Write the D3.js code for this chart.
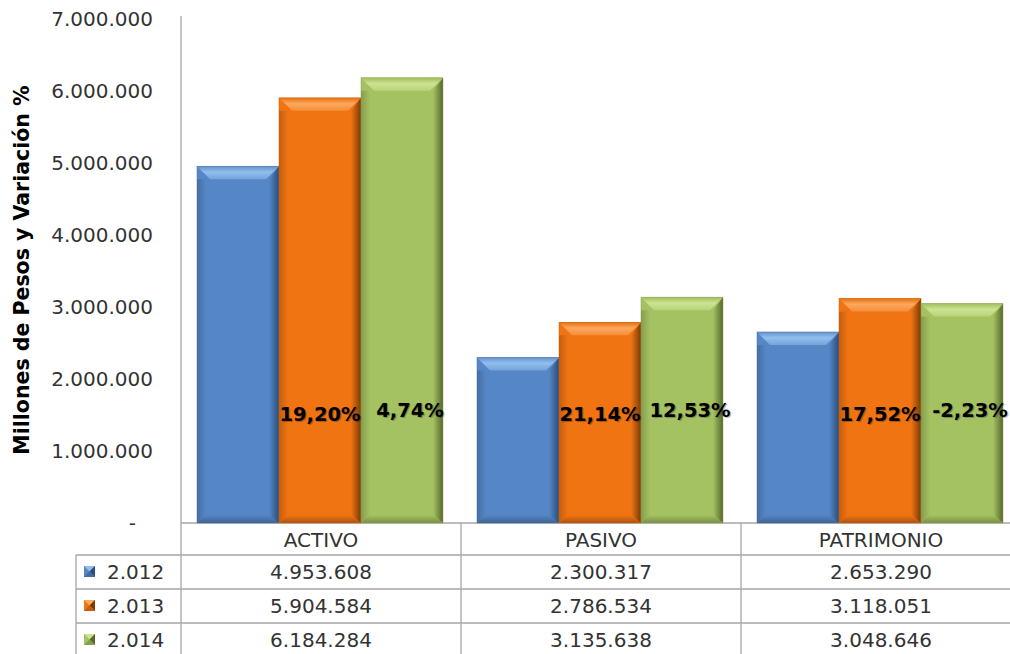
<!DOCTYPE html>
<html>
<head>
<meta charset="utf-8">
<script src="https://cdn.jsdelivr.net/npm/d3@7"></script>
<style>
  html, body { margin: 0; padding: 0; background: #fff; }
  svg { display: block; font-family: "DejaVu Sans", Verdana, sans-serif; }
</style>
</head>
<body>
<svg id="chart" width="1010" height="654"></svg>
<script>
// ---- data ----
const categories = ["ACTIVO", "PASIVO", "PATRIMONIO"];
const seriesNames = ["2.012", "2.013", "2.014"];
const values2012 = [4953608, 2300317, 2653290];
const values2013 = [5904584, 2786534, 3118051];
const values2014 = [6184284, 3135638, 3048646];
const variation2013 = ["19,20%", "21,14%", "17,52%"];
const variation2014 = ["4,74%", "12,53%", "-2,23%"];
const yTicks = [0, 1000000, 2000000, 3000000, 4000000, 5000000, 6000000, 7000000];
const yTickLabels = ["-", "1.000.000", "2.000.000", "3.000.000", "4.000.000", "5.000.000", "6.000.000", "7.000.000"];
const tableLabels = ["4.953.608", "2.300.317", "2.653.290", "5.904.584", "2.786.534", "3.118.051", "6.184.284", "3.135.638", "3.048.646"];

const seriesValues = [values2012, values2013, values2014];
const colors = [
  { face: "#5587c6", light: "#92beef", mid: "#6592cc", dark: "#2c4d78" },
  { face: "#f07412", light: "#fca85e", mid: "#e8700e", dark: "#7a3a06" },
  { face: "#a5c262", light: "#cce392", mid: "#a0bd5c", dark: "#55692c" }
];

const svg = d3.select("#chart");
const left = 181, zeroY = 523, topY = 19;
const bandW = 280;

const x0 = d3.scaleBand().domain(categories).range([left, left + bandW * categories.length]).padding(0);
const x1 = d3.scaleBand().domain(seriesNames).range([16, 262]).padding(0);
const y = d3.scaleLinear().domain([0, 7000000]).range([zeroY, topY]);

// gradients
const defs = svg.append("defs");
colors.forEach((c, i) => {
  const gt = defs.append("linearGradient").attr("id", "top" + i).attr("x1", 0).attr("y1", 0).attr("x2", 0).attr("y2", 1);
  gt.append("stop").attr("offset", 0).attr("stop-color", c.mid);
  gt.append("stop").attr("offset", 0.45).attr("stop-color", c.light);
  gt.append("stop").attr("offset", 1).attr("stop-color", d3.interpolateRgb(c.light, c.face)(0.5));
  const gr = defs.append("linearGradient").attr("id", "right" + i).attr("x1", 0).attr("y1", 0).attr("x2", 1).attr("y2", 0);
  gr.append("stop").attr("offset", 0).attr("stop-color", c.face);
  gr.append("stop").attr("offset", 1).attr("stop-color", c.dark);
  const gl = defs.append("linearGradient").attr("id", "left" + i).attr("x1", 0).attr("y1", 0).attr("x2", 1).attr("y2", 0);
  gl.append("stop").attr("offset", 0).attr("stop-color", d3.color(c.face).darker(0.6));
  gl.append("stop").attr("offset", 1).attr("stop-color", c.face);
  const gb = defs.append("linearGradient").attr("id", "bot" + i).attr("x1", 0).attr("y1", 0).attr("x2", 0).attr("y2", 1);
  gb.append("stop").attr("offset", 0).attr("stop-color", c.face);
  gb.append("stop").attr("offset", 1).attr("stop-color", d3.color(c.face).darker(0.9));
});

// y-axis ticks
const yAxis = d3.axisLeft(y).tickValues(yTicks).tickSize(0).tickPadding(0)
  .tickFormat((d, i) => yTickLabels[i]);
const gy = svg.append("g").attr("transform", `translate(153,0)`).call(yAxis);
gy.select(".domain").remove();
gy.selectAll("text").attr("font-size", 20).attr("fill", "#333").attr("font-family", "DejaVu Sans, Verdana, sans-serif");
gy.selectAll(".tick").filter(d => d === 0).select("text").attr("x", -17);

// axis title
svg.append("text")
  .attr("transform", `translate(29,${(82 + 458) / 2}) rotate(-90)`)
  .attr("text-anchor", "middle")
  .attr("font-size", 20.5).attr("font-weight", "bold").attr("fill", "#000")
  .text("Millones de Pesos y Variación %");

// grid / table lines
const lineC = "#a6a6a6";
const tableRows = [555, 589, 623, 657];
svg.append("line").attr("x1", left).attr("x2", left).attr("y1", 16).attr("y2", 654).attr("stroke", lineC).attr("stroke-width", 1.3);
svg.append("line").attr("x1", left).attr("x2", 1010).attr("y1", zeroY).attr("y2", zeroY).attr("stroke", lineC).attr("stroke-width", 1.3);
categories.forEach(cat => {
  const xe = x0(cat) + bandW;
  svg.append("line").attr("x1", xe).attr("x2", xe).attr("y1", zeroY).attr("y2", 654).attr("stroke", lineC).attr("stroke-width", 1.3);
});
tableRows.slice(0, 3).forEach(r => {
  svg.append("line").attr("x1", 76).attr("x2", 1010).attr("y1", r).attr("y2", r).attr("stroke", lineC).attr("stroke-width", 1.3);
});
svg.append("line").attr("x1", 76).attr("x2", 76).attr("y1", 555).attr("y2", 654).attr("stroke", lineC).attr("stroke-width", 1.3);

// bars
const bev = 13;
seriesValues.forEach((vals, si) => {
  const g = svg.append("g");
  categories.forEach((cat, ci) => {
    const bx = x0(cat) + x1(seriesNames[si]);
    const bw = x1.bandwidth();
    const by = y(vals[ci]);
    const bh = zeroY - by;
    const b = Math.min(bev, bh / 2);
    const bb = 8;
    g.append("rect").attr("x", bx).attr("y", by).attr("width", bw).attr("height", bh).attr("fill", colors[si].face);
    const pts = (arr) => arr.map(p => p.join(",")).join(" ");
    g.append("polygon").attr("points", pts([[bx, by + b], [bx + 9, by + b], [bx + 9, zeroY - bb], [bx, zeroY]])).attr("fill", `url(#left${si})`);
    g.append("polygon").attr("points", pts([[bx + bw, by], [bx + bw, zeroY], [bx + bw - 10, zeroY - bb], [bx + bw - 10, by + b]])).attr("fill", `url(#right${si})`);
    g.append("polygon").attr("points", pts([[bx, zeroY], [bx + 9, zeroY - bb], [bx + bw - 10, zeroY - bb], [bx + bw, zeroY]])).attr("fill", `url(#bot${si})`);
    g.append("polygon").attr("points", pts([[bx, by], [bx + bw, by], [bx + bw - 13, by + b], [bx + 13, by + b]])).attr("fill", `url(#top${si})`);
    g.append("rect").attr("x", bx).attr("y", by).attr("width", bw).attr("height", bh)
      .attr("fill", "none").attr("stroke", d3.color(colors[si].face).darker(0.5)).attr("stroke-width", 0.8).attr("stroke-opacity", 0.6);
  });
});

// variation labels
const labelGroups = [
  { labels: variation2013, s: 1, dx: 0, yPos: 421 },
  { labels: variation2014, s: 2, dx: 8, yPos: 417 }
];
labelGroups.forEach(lg => {
  categories.forEach((cat, ci) => {
    const cx = x0(cat) + x1(seriesNames[lg.s]) + x1.bandwidth() / 2 + lg.dx;
    svg.append("text").attr("x", cx + 1.2).attr("y", lg.yPos + 1.2).attr("text-anchor", "middle")
      .attr("font-size", 19.5).attr("font-weight", "bold").attr("fill", "#000").attr("opacity", 0.25)
      .text(lg.labels[ci]);
    svg.append("text").attr("x", cx).attr("y", lg.yPos).attr("text-anchor", "middle")
      .attr("font-size", 19.5).attr("font-weight", "bold").attr("fill", "#000")
      .text(lg.labels[ci]);
  });
});

// category header row
categories.forEach(cat => {
  svg.append("text").attr("x", x0(cat) + bandW / 2).attr("y", 547).attr("text-anchor", "middle")
    .attr("font-size", 20).attr("fill", "#333").text(cat);
});

// table rows
seriesNames.forEach((sn, si) => {
  const rowTop = tableRows[si];
  const cy = rowTop + 17;
  const sx = 84, sy = cy - 6, ss = 11;
  const c = colors[si];
  const sg = svg.append("g");
  sg.append("rect").attr("x", sx).attr("y", sy).attr("width", ss).attr("height", ss).attr("fill", c.face);
  sg.append("polygon").attr("points", `${sx},${sy} ${sx + ss},${sy} ${sx + ss / 2},${sy + ss / 2}`).attr("fill", c.light);
  sg.append("polygon").attr("points", `${sx + ss},${sy} ${sx + ss},${sy + ss} ${sx + ss / 2},${sy + ss / 2}`).attr("fill", c.dark);
  sg.append("polygon").attr("points", `${sx},${sy + ss} ${sx + ss},${sy + ss} ${sx + ss / 2},${sy + ss / 2}`).attr("fill", d3.color(c.face).darker(0.6));
  svg.append("text").attr("x", 107).attr("y", cy + 7).attr("font-size", 20).attr("fill", "#333").text(sn);
  categories.forEach((cat, ci) => {
    svg.append("text").attr("x", x0(cat) + bandW / 2).attr("y", cy + 7).attr("text-anchor", "middle")
      .attr("font-size", 20).attr("fill", "#333").text(tableLabels[si * 3 + ci]);
  });
});
</script>
</body>
</html>
